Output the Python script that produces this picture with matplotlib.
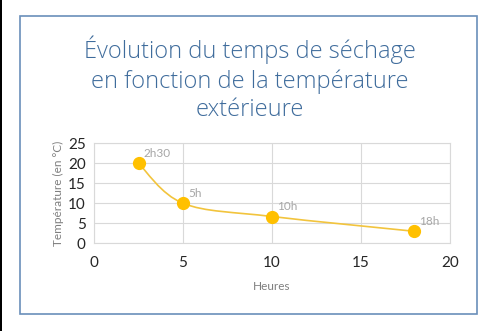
import matplotlib.pyplot as plt
from matplotlib.path import Path
from matplotlib.patches import PathPatch, Rectangle
import numpy as np

heures = [2.5, 5, 10, 18]
temperatures = [20, 10, 6.7, 3]
etiquettes = ['2h30', '5h', '10h', '18h']

plt.rcParams['font.family'] = ['Lato', 'DejaVu Sans']

fig = plt.figure(figsize=(5, 3.31), dpi=100)
ax = fig.add_axes([94 / 500, 1 - 243.3 / 331, 356 / 500, 100 / 331])

# cadre du graphique
fig.patches.append(Rectangle((20 / 500, 1 - 314 / 331), 457 / 500, 298 / 331,
                             transform=fig.transFigure, fill=False,
                             edgecolor='#6A8FBA', linewidth=1.2))
fig.patches.append(Rectangle((0, 0), 2 / 500, 1, transform=fig.transFigure,
                             facecolor='black', edgecolor='none'))

fig.text(0.5, 1 - 79 / 331,
         'Évolution du temps de séchage\nen fonction de la température\nextérieure',
         ha='center', va='center', fontsize=17, color='#3F6C9C',
         family=['Open Sans', 'DejaVu Sans'], fontweight='light',
         linespacing=1.25)

# courbe lissée (Catmull-Rom convertie en Bézier)
x = np.array(heures, dtype=float)
y = np.array(temperatures, dtype=float)
pts = np.column_stack([x, y])
verts = [pts[0]]
codes = [Path.MOVETO]
n = len(pts)
for i in range(n - 1):
    p0 = pts[i - 1] if i > 0 else pts[i]
    p1 = pts[i]
    p2 = pts[i + 1]
    p3 = pts[i + 2] if i + 2 < n else pts[i + 1]
    c1 = p1 + (p2 - p0) / 6
    c2 = p2 - (p3 - p1) / 6
    verts += [c1, c2, p2]
    codes += [Path.CURVE4] * 3
ax.add_patch(PathPatch(Path(verts, codes), facecolor='none',
                       edgecolor='#F2C43D', linewidth=1.2, zorder=3))
ax.plot(heures, temperatures, linestyle='none', marker='o', markersize=8.5,
        color='#FFC000', zorder=4)

for hx, ty, lab in zip(heures, temperatures, etiquettes):
    ax.annotate(lab, (hx, ty), xytext=(3.5, 3), textcoords='offset points',
                fontsize=8.5, color='#A6A6A6', ha='left', va='bottom')

ax.set_xlim(0, 20)
ax.set_ylim(0, 25)
ax.set_xticks([0, 5, 10, 15, 20])
ax.set_yticks([0, 5, 10, 15, 20, 25])
ax.grid(True, color='#D9D9D9', linewidth=0.8)
ax.set_axisbelow(True)
for s in ax.spines.values():
    s.set_color('#D9D9D9')
    s.set_linewidth(0.8)
ax.tick_params(length=0, labelsize=11, colors='#262626')
ax.tick_params(axis='x', pad=9)
ax.tick_params(axis='y', pad=6)
ax.set_xlabel('Heures', fontsize=8.5, color='#7F7F7F', labelpad=8)
ax.set_ylabel('Température (en °C)', fontsize=8.5, color='#7F7F7F', labelpad=3)

fig.savefig('out.png', dpi=100)
